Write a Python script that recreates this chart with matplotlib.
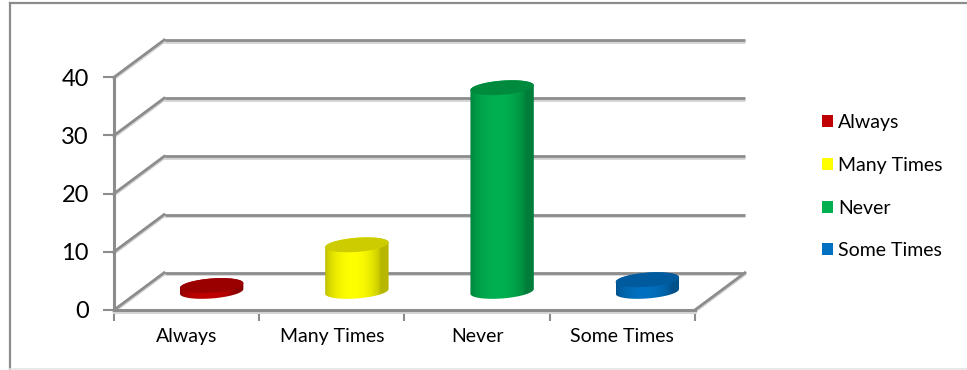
import numpy as np
import matplotlib
matplotlib.use("Agg")
import matplotlib.pyplot as plt
from matplotlib.patches import Polygon, Patch
from matplotlib.lines import Line2D
import matplotlib.patheffects as pe

plt.rcParams['font.family'] = ['Lato', 'DejaVu Sans']

# data
categories = ['Always', 'Many Times', 'Never', 'Some Times']
values = [1, 8, 35, 2]
y_ticks = [0, 10, 20, 30, 40]
body_colors = ['#c00000', '#ffff00', '#00b050', '#0070c0']
top_colors = ['#9a0000', '#cccc00', '#008a3e', '#005a9e']

# oblique 3d depth offset, in data units
DX = 0.345
DY = 6.4
R = 0.207     # cylinder radius along x
K = 0.2       # cylinder radius as fraction of depth

GRID = '#8c8c8c'
shadow = [pe.SimpleLineShadow(offset=(0, -1.2), shadow_color='#d4d4d4', alpha=1), pe.Normal()]

fig = plt.figure(figsize=(9.67, 3.70), dpi=100)
ax = fig.add_axes([114 / 967, 60 / 370, 631 / 967, 270 / 370])
ax.set_xlim(0, 4 + DX)
ax.set_ylim(0, 40 + DY)
for s in ax.spines.values():
    s.set_visible(False)

# back wall grid lines and left wall diagonals
for v in y_ticks:
    ax.plot([DX, 4 + DX], [v + DY, v + DY], color=GRID, lw=2, clip_on=False,
            path_effects=shadow, zorder=1, solid_capstyle='butt')
    ax.plot([0, DX], [v, v + DY], color=GRID, lw=2, clip_on=False,
            path_effects=shadow, zorder=1)
# floor right edge
ax.plot([4, 4 + DX], [0, DY], color=GRID, lw=2, clip_on=False, path_effects=shadow, zorder=1)
# front axes
ax.plot([0, 0], [0, 40], color=GRID, lw=2.2, clip_on=False, zorder=5)
ax.plot([0, 4], [0, 0], color=GRID, lw=2.2, clip_on=False, path_effects=shadow, zorder=5)

# cylinders
a = K * DX
b = K * DY
W = np.hypot(R, a)
t_r = np.arctan2(a, R)
t_l = t_r + np.pi
for i, (v, bc, tc) in enumerate(zip(values, body_colors, top_colors)):
    cx = i + 0.5 + DX / 2
    y0 = DY / 2
    y1 = y0 + v
    tf = np.linspace(t_l, t_r + 2 * np.pi, 80)
    tb = np.linspace(t_r, t_l, 80)
    xs = np.concatenate([cx + R * np.cos(tf) + a * np.sin(tf), cx + R * np.cos(tb) + a * np.sin(tb)])
    ys = np.concatenate([y0 + b * np.sin(tf), y1 + b * np.sin(tb)])
    body = Polygon(np.column_stack([xs, ys]), closed=True, transform=ax.transData,
                   facecolor='none', edgecolor='none')
    ax.add_patch(body)
    u = np.linspace(0, 1, 200)
    f = 0.72 + 0.28 * np.sin(np.pi * np.clip(u * 1.15, 0, 1)) ** 0.6
    rgb = np.array(matplotlib.colors.to_rgb(bc))
    grad = (rgb[None, :] * f[:, None])[None, :, :]
    im = ax.imshow(grad, extent=(cx - W, cx + W, y0 - b, y1 + b), aspect='auto',
                   interpolation='bilinear', zorder=3, origin='lower')
    im.set_clip_path(body)
    tt = np.linspace(0, 2 * np.pi, 120)
    top = Polygon(np.column_stack([cx + R * np.cos(tt) + a * np.sin(tt), y1 + b * np.sin(tt)]),
                  closed=True, facecolor=tc, edgecolor='none', zorder=4)
    ax.add_patch(top)

ax.set_xlim(0, 4 + DX)
ax.set_ylim(0, 40 + DY)

# ticks
ax.set_yticks(y_ticks)
ax.tick_params(axis='y', length=8, width=1.5, color=GRID, pad=10, labelsize=17)
ax.set_xticks([0, 1, 2, 3, 4])
ax.set_xticklabels([])
ax.tick_params(axis='x', which='major', length=8, width=1.5, color=GRID)
ax.set_xticks([0.5, 1.5, 2.5, 3.5], minor=True)
ax.set_xticklabels(categories, minor=True)
ax.tick_params(axis='x', which='minor', length=0, pad=13, labelsize=14)

# legend
handles = [Patch(facecolor=c, edgecolor='none') for c in body_colors]
fig.legend(handles, categories, loc='center left', bbox_to_anchor=(821.5 / 967, 0.495),
           frameon=False, fontsize=14, handlelength=0.57, handleheight=0.57,
           handletextpad=0.3, labelspacing=1.32, borderpad=0, borderaxespad=0)

# chart frame
fig.add_artist(Line2D([9.5 / 967, 9.5 / 967], [1.5 / 370, 367.5 / 370], color='#8c8c8c', lw=1.6))
fig.add_artist(Line2D([9.5 / 967, 1.0], [367.5 / 370, 367.5 / 370], color='#8c8c8c', lw=1.6))
fig.add_artist(Line2D([9.5 / 967, 1.0], [1.5 / 370, 1.5 / 370], color='#e4e4e4', lw=1.2))

fig.savefig('out.png', dpi=100)
